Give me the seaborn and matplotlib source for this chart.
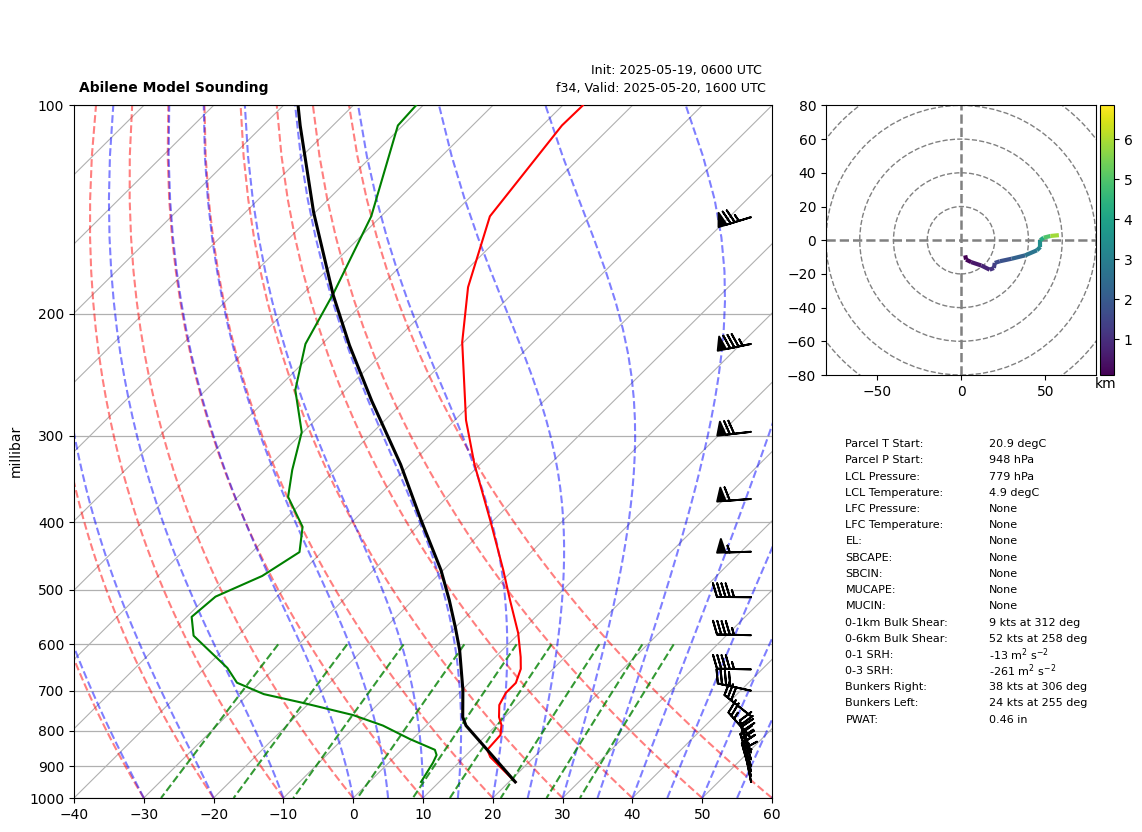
import numpy as np
import matplotlib
matplotlib.use("Agg")
import matplotlib.pyplot as plt
from matplotlib.collections import LineCollection
from matplotlib.patches import Circle
from matplotlib.ticker import NullLocator, FixedLocator, ScalarFormatter
import seaborn as sns

# ---- sounding data ----
temp_p = [100, 106.9, 144.6, 183, 219.7, 284.7, 329.5, 398.4, 468.8, 518, 578, 626, 651, 682, 705, 734, 764, 784.5, 811, 852, 873, 948]
temp_c = [-67.1, -67.2, -64.4, -57.3, -50.2, -38.4, -30.85, -20.3, -11.4, -6.1, -0.17, 3.65, 5.37, 6.68, 6.69, 7.5, 9.2, 10.7, 12.0, 12.25, 13.75, 20.9]
dew_p = [100, 106.9, 144.6, 186.7, 221, 257.6, 296.3, 336, 367.5, 406, 441.5, 478, 512, 547.6, 583, 649, 681.6, 708, 729, 759, 786, 822, 852, 867, 890, 948]
dew_c = [-91, -90.7, -81.4, -75.7, -72.4, -67.2, -60.2, -56.1, -52.8, -46.4, -43.2, -45.1, -48.8, -49.3, -46.3, -36.8, -33.3, -27.8, -20.9, -12, -6.2, -0.4, 4.75, 5.75, 6.35, 7.4]
parcel_p = [100, 106.9, 142.5, 187.8, 222, 267, 330, 397, 469, 518, 566, 611, 698, 764, 786, 852, 948]
parcel_c = [-107.9, -104.7, -90.3, -75.5, -65.9, -54.7, -41.35, -30.4, -20.3, -14.8, -10.1, -6.15, 0.1, 4.0, 5.7, 12.25, 20.9]

barb_p = [145, 221, 296, 370, 441, 513, 582, 652, 700, 762, 819, 860, 880, 900, 915, 930, 948]
barb_u = [72, 83, 69.5, 59.7, 55, 45, 45, 45, 39, 23.4, 16.6, 7, 6, 6, 5, 4.5, 3]
barb_v = [22, 17, 8, 4.6, 1.6, -0.4, -0.9, -0.9, -8.5, -18.7, -18.7, -20, -20, -18, -18, -16, -15]

hodo_u = [2.5, 3, 6, 12, 17, 19.5, 20, 23, 30, 38, 45, 47, 47, 49, 53, 58]
hodo_v = [-9, -11.5, -13, -15, -17.5, -16.5, -13.5, -12.5, -11, -9, -6, -4, 0, 1.5, 2.5, 3]
hodo_km = [0.1, 0.2, 0.5, 0.8, 1.1, 1.3, 1.6, 1.8, 2.2, 2.7, 3.1, 3.4, 4.2, 5.0, 5.9, 6.85]

pressure_ticks = [1000, 900, 800, 700, 600, 500, 400, 300, 200, 100]
temp_ticks = [-40, -30, -20, -10, 0, 10, 20, 30, 40, 50, 60]
dry_starts = [-40, -30, -20, -10, 0, 10, 20, 30, 40, 50, 60]
moist_starts = [-40, -30, -20, -10, 0, 5, 10, 15, 20, 25, 30, 35, 40, 45, 50, 55, 60]
mixing_ratios = [0.0004, 0.001, 0.002, 0.004, 0.007, 0.01, 0.016, 0.024, 0.032]

table_labels = ["Parcel T Start:", "Parcel P Start:", "LCL Pressure:", "LCL Temperature:", "LFC Pressure:",
                "LFC Temperature:", "EL:", "SBCAPE:", "SBCIN:", "MUCAPE:", "MUCIN:", "0-1km Bulk Shear:",
                "0-6km Bulk Shear:", "0-1 SRH:", "0-3 SRH:", "Bunkers Right:", "Bunkers Left:", "PWAT:"]
table_values = ["20.9 degC", "948 hPa", "779 hPa", "4.9 degC", "None", "None", "None", "None", "None", "None", "None",
                "9 kts at 312 deg", "52 kts at 258 deg", r"-13 $\mathrm{m}^{2}\ \mathrm{s}^{-2}$",
                r"-261 $\mathrm{m}^{2}\ \mathrm{s}^{-2}$", "38 kts at 306 deg", "24 kts at 255 deg", "0.46 in"]

# ---- style ----
sns.set_style("ticks", rc={"axes.edgecolor": "black", "text.color": "black", "axes.labelcolor": "black",
                           "xtick.color": "black", "ytick.color": "black", "lines.solid_capstyle": "projecting"})
plt.rcParams["font.family"] = ["DejaVu Sans"]

W, H = 1142, 832
fig = plt.figure(figsize=(W / 100, H / 100), dpi=100)


def px_axes(x0, y0, x1, y1):
    return fig.add_axes([x0 / W, 1 - y1 / H, (x1 - x0) / W, (y1 - y0) / H])


def fig_text(x, y, s, **kw):
    fig.text(x / W, 1 - y / H, s, **kw)


ax = px_axes(74, 105.4, 772, 798)
SKEW = 100.0  # the skew runs in axes fractions: one full axes width per decade of pressure


def skew(t, p):
    return np.asarray(t, float) + SKEW * np.log10(1000 / np.asarray(p, float))


ax.set_yscale("log")
plev = np.linspace(1000, 100, 50)

# isotherms and isobars
for t in np.arange(-140, 61, 10):
    ax.plot(skew([t, t], [1000, 100]), [1000, 100], color="#b0b0b0", lw=0.8, zorder=1)
for p in pressure_ticks:
    ax.axhline(p, color="#b0b0b0", lw=0.9, zorder=1)

# dry adiabats
for t0 in dry_starts:
    tk = (t0 + 273.15) * (plev / 1000) ** 0.2857
    ax.plot(skew(tk - 273.15, plev), plev, color="r", ls="--", lw=1.5, alpha=0.5, zorder=2)


# moist adiabats
def dtdp(p, t):
    es = 6.112 * np.exp(17.67 * (t - 273.15) / (t - 29.65))
    rs = 0.622 * es / (p - es)
    rd, cp, lv = 287.04, 1005.7, 2.5e6
    return (rd * t + lv * rs) / (cp + lv ** 2 * rs * 0.622 / (rd * t ** 2)) / p


for t0 in moist_starts:
    t = t0 + 273.15
    out = [t]
    for a, b in zip(plev[:-1], plev[1:]):
        n = 6
        h = (b - a) / n
        q = a
        for _ in range(n):
            k1 = dtdp(q, t)
            k2 = dtdp(q + h / 2, t + h * k1 / 2)
            k3 = dtdp(q + h / 2, t + h * k2 / 2)
            k4 = dtdp(q + h, t + h * k3)
            t = t + h * (k1 + 2 * k2 + 2 * k3 + k4) / 6
            q += h
        out.append(t)
    ax.plot(skew(np.array(out) - 273.15, plev), plev, color="b", ls="--", lw=1.5, alpha=0.5, zorder=2)

# mixing ratio lines
pm = np.linspace(600, 1000, 50)
for w in mixing_ratios:
    e = pm * w / (0.622 + w)
    td = 243.5 * np.log(e / 6.112) / (17.67 - np.log(e / 6.112))
    ax.plot(skew(td, pm), pm, color="g", ls="--", lw=1.5, alpha=0.8, zorder=2)

# traces
sns.lineplot(x=skew(temp_c, temp_p), y=temp_p, sort=False, estimator=None, color="red", lw=1.5, ax=ax, zorder=4)
sns.lineplot(x=skew(dew_c, dew_p), y=dew_p, sort=False, estimator=None, color="green", lw=1.5, ax=ax, zorder=4)
sns.lineplot(x=skew(parcel_c, parcel_p), y=parcel_p, sort=False, estimator=None, color="black", lw=2.2, ax=ax, zorder=5)

ax.barbs(np.full(len(barb_p), 0.97), barb_p, barb_u, barb_v, transform=ax.get_yaxis_transform(),
         pivot="tip", length=7, lw=1.4, color="black", zorder=6)

ax.set_xlim(-40, 60)
ax.set_ylim(1000, 100)
ax.xaxis.set_major_locator(FixedLocator(temp_ticks))
ax.yaxis.set_major_locator(FixedLocator(pressure_ticks))
ax.yaxis.set_major_formatter(ScalarFormatter())
ax.yaxis.set_minor_locator(NullLocator())
ax.set_xlabel("")
ax.set_ylabel("")
fig_text(16, 451, "millibar", rotation=90, ha="center", va="center", fontsize=10)

fig_text(79, 91.7, "Abilene Model Sounding", fontsize=10, fontweight="bold", ha="left", va="baseline")
fig_text(762, 74, "Init: 2025-05-19, 0600 UTC", fontsize=9.05, ha="right", va="baseline")
fig_text(766, 91.7, "f34, Valid: 2025-05-20, 1600 UTC", fontsize=9.05, ha="right", va="baseline")

# hodograph
hax = px_axes(826, 105.4, 1096, 375)
hax.set_xlim(-80, 80)
hax.set_ylim(-80, 80)
for r in [20, 40, 60, 80, 100]:
    hax.add_patch(Circle((0, 0), r, fill=False, ec="grey", ls="--", lw=1, zorder=1))
hax.axhline(0, color="grey", ls="--", lw=1.8, zorder=1)
hax.axvline(0, color="grey", ls="--", lw=1.8, zorder=1)
pts = np.column_stack([hodo_u, hodo_v])
segs = np.stack([pts[:-1], pts[1:]], axis=1)
lc = LineCollection(segs, cmap=sns.color_palette("viridis", as_cmap=True), lw=3, zorder=3)
lc.set_array(np.array(hodo_km[:-1]))
lc.set_clim(hodo_km[0], hodo_km[-1])
hax.add_collection(lc)
hax.set_xticks([-50, 0, 50])
hax.set_yticks(np.arange(-80, 81, 20))

cax = px_axes(1100, 105.4, 1114, 375)
cb = fig.colorbar(lc, cax=cax)
cb.set_ticks([1, 2, 3, 4, 5, 6])
fig_text(1106, 384, "km", ha="center", va="center", fontsize=10)

# table
for i, (a, b) in enumerate(zip(table_labels, table_values)):
    y = 444.3 + 16.2 * i
    fig_text(845.5, y, a, fontsize=8, ha="left", va="center")
    fig_text(989, y, b, fontsize=8, ha="left", va="center")

fig.savefig("out.png", dpi=100)
